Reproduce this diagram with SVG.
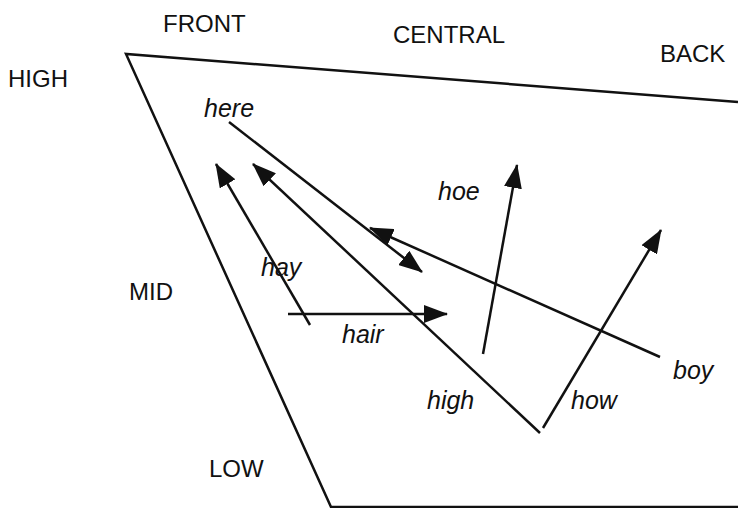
<svg xmlns="http://www.w3.org/2000/svg" width="738" height="508" viewBox="0 0 738 508">
<style>
.cap{font-family:"Liberation Sans",Arial,sans-serif;font-size:24px;fill:#111}
.it{font-family:"Liberation Sans",Arial,sans-serif;font-size:25px;font-style:italic;fill:#111}
.ln{stroke:#111;stroke-width:2.5;fill:none}
.ar{stroke:#111;stroke-width:2.5;fill:none;marker-end:url(#ah)}
</style>
<defs>
<marker id="ah" markerUnits="userSpaceOnUse" markerWidth="24" markerHeight="18" viewBox="0 0 24 18" refX="23" refY="9" orient="auto">
<path d="M0,0 L24,9 L0,18 Z" fill="#111"/>
</marker>
</defs>
<g id="frame">
<path class="ln" d="M738,102 L126,54 L331,507 L738,507"/>
</g>
<g id="labels">
<text class="cap" x="163" y="32">FRONT</text>
<text class="cap" x="393" y="43">CENTRAL</text>
<text class="cap" x="660" y="62">BACK</text>
<text class="cap" x="8" y="87">HIGH</text>
<text class="cap" x="129" y="300">MID</text>
<text class="cap" x="209" y="477">LOW</text>
</g>
<g id="here"><text class="it" x="204" y="117">here</text></g>
<g id="hay"><text class="it" x="261" y="276">hay</text></g>
<g id="hair"><text class="it" x="342" y="343">hair</text></g>
<g id="hoe"><text class="it" x="438" y="200">hoe</text></g>
<g id="high"><text class="it" x="427" y="409">high</text></g>
<g id="how"><text class="it" x="571" y="409">how</text></g>
<g id="boy"><text class="it" x="673" y="379">boy</text></g>
<g id="connectors">
<line class="ar" x1="229" y1="122" x2="422" y2="272"/>
<line class="ar" x1="660" y1="357" x2="370" y2="228"/>
<line class="ar" x1="310" y1="325" x2="216" y2="164"/>
<line class="ar" x1="540" y1="433" x2="253" y2="164"/>
<line class="ar" x1="288" y1="314" x2="447" y2="314"/>
<line class="ar" x1="483" y1="354" x2="517" y2="165"/>
<line class="ar" x1="543" y1="428" x2="661" y2="230"/>
</g>
</svg>
